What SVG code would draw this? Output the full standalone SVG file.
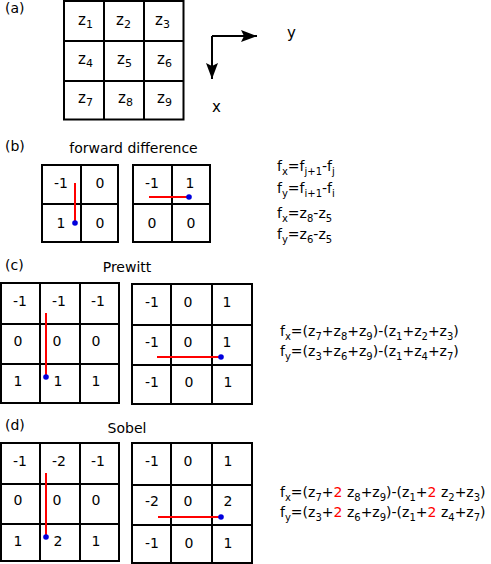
<svg xmlns="http://www.w3.org/2000/svg" width="491" height="564" viewBox="0 0 491 564">
<style>
text { font-family: "DejaVu Sans", "Verdana", sans-serif; font-size: 14px; fill: #000; }
.c { text-anchor: middle; }
.s { font-size: 10px; }
.z { font-size: 15px; }
.zs { font-size: 11px; }
.r { fill: #ff0000; }
.grid { fill: #fff; stroke: #000; stroke-width: 2; }
.gl { stroke: #000; stroke-width: 2; fill: none; }
.red { stroke: #ff0000; stroke-width: 2; fill: none; }
.dot { fill: #0000dd; }
.ax { stroke: #000; stroke-width: 2; fill: none; }
</style>
<defs>
<marker id="arr" markerUnits="userSpaceOnUse" markerWidth="20" markerHeight="14" refX="0" refY="0" viewBox="-17 -7 18 14" orient="auto" overflow="visible">
<path d="M0,0 L-16,-6 L-13,0 L-16,6 Z" fill="#000"/>
</marker>
</defs>

<!-- (a) -->
<g id="panel-a">
<text x="5" y="13">(a)</text>
<g id="grid-a">
<rect class="grid" x="64" y="1" width="119.5" height="118.5"/>
<path class="gl" d="M104,1V119.5M144,1V119.5M64,41H183.5M64,81H183.5"/>
<text x="78" y="25" class="z">z<tspan class="zs" dy="3">1</tspan></text>
<text x="116" y="25" class="z">z<tspan class="zs" dy="3">2</tspan></text>
<text x="155" y="25" class="z">z<tspan class="zs" dy="3">3</tspan></text>
<text x="78" y="64" class="z">z<tspan class="zs" dy="3">4</tspan></text>
<text x="117" y="64" class="z">z<tspan class="zs" dy="3">5</tspan></text>
<text x="157" y="64" class="z">z<tspan class="zs" dy="3">6</tspan></text>
<text x="78" y="103" class="z">z<tspan class="zs" dy="3">7</tspan></text>
<text x="118" y="103" class="z">z<tspan class="zs" dy="3">8</tspan></text>
<text x="157" y="103" class="z">z<tspan class="zs" dy="3">9</tspan></text>
</g>
<g id="axes">
<path class="ax" d="M212,36H257" marker-end="url(#arr)"/>
<path class="ax" d="M212,36V79" marker-end="url(#arr)"/>
<text x="287" y="38" class="z">y</text>
<text x="212" y="112" class="z">x</text>
</g>
</g>

<!-- (b) -->
<g id="panel-b">
<text x="5" y="151">(b)</text>
<text x="133.5" y="153" class="c">forward difference</text>
<g id="grid-b1">
<rect class="grid" x="42" y="165" width="76" height="77"/>
<path class="gl" d="M81,165V242M42,204H118"/>
<text x="61" y="188" class="c">-1</text>
<text x="100" y="188" class="c">0</text>
<text x="61" y="228" class="c">1</text>
<text x="100" y="228" class="c">0</text>
</g>
<g id="grid-b2">
<rect class="grid" x="133" y="165" width="77" height="77"/>
<path class="gl" d="M172,165V242M133,204H210"/>
<text x="152" y="188" class="c">-1</text>
<text x="190" y="188" class="c">1</text>
<text x="152" y="228" class="c">0</text>
<text x="191" y="228" class="c">0</text>
</g>
<g id="eq-b">
<text x="277" y="171">f<tspan class="s" dy="4">x</tspan><tspan dy="-4">=f</tspan><tspan class="s" dy="4">j+1</tspan><tspan dy="-4">-f</tspan><tspan class="s" dy="4">j</tspan></text>
<text x="277" y="193">f<tspan class="s" dy="4">y</tspan><tspan dy="-4">=f</tspan><tspan class="s" dy="4">i+1</tspan><tspan dy="-4">-f</tspan><tspan class="s" dy="4">i</tspan></text>
<text x="277" y="218">f<tspan class="s" dy="4">x</tspan><tspan dy="-4">=z</tspan><tspan class="s" dy="4">8</tspan><tspan dy="-4">-z</tspan><tspan class="s" dy="4">5</tspan></text>
<text x="277" y="239">f<tspan class="s" dy="4">y</tspan><tspan dy="-4">=z</tspan><tspan class="s" dy="4">6</tspan><tspan dy="-4">-z</tspan><tspan class="s" dy="4">5</tspan></text>
</g>
</g>

<!-- (c) -->
<g id="panel-c">
<text x="5" y="270">(c)</text>
<text x="127" y="272" class="c">Prewitt</text>
<g id="grid-c1">
<rect class="grid" x="1" y="283" width="118" height="120"/>
<path class="gl" d="M40,283V403M80,283V403M1,324H119M1,364H119"/>
<text x="20" y="306" class="c">-1</text>
<text x="59" y="306" class="c">-1</text>
<text x="98" y="306" class="c">-1</text>
<text x="18" y="346" class="c">0</text>
<text x="57" y="346" class="c">0</text>
<text x="96" y="346" class="c">0</text>
<text x="18" y="386" class="c">1</text>
<text x="58" y="386" class="c">1</text>
<text x="96" y="386" class="c">1</text>
</g>
<g id="grid-c2">
<rect class="grid" x="132" y="284" width="120" height="120"/>
<path class="gl" d="M171,284V404M212,284V404M132,325H252M132,365H252"/>
<text x="152" y="307" class="c">-1</text>
<text x="188" y="307" class="c">0</text>
<text x="227" y="307" class="c">1</text>
<text x="152" y="347" class="c">-1</text>
<text x="188" y="347" class="c">0</text>
<text x="227" y="347" class="c">1</text>
<text x="152" y="387" class="c">-1</text>
<text x="189" y="387" class="c">0</text>
<text x="228" y="387" class="c">1</text>
</g>
<g id="eq-c">
<text x="280" y="336">f<tspan class="s" dy="4">x</tspan><tspan dy="-4">=(z</tspan><tspan class="s" dy="4">7</tspan><tspan dy="-4">+z</tspan><tspan class="s" dy="4">8</tspan><tspan dy="-4">+z</tspan><tspan class="s" dy="4">9</tspan><tspan dy="-4">)-(z</tspan><tspan class="s" dy="4">1</tspan><tspan dy="-4">+z</tspan><tspan class="s" dy="4">2</tspan><tspan dy="-4">+z</tspan><tspan class="s" dy="4">3</tspan><tspan dy="-4">)</tspan></text>
<text x="280" y="356">f<tspan class="s" dy="4">y</tspan><tspan dy="-4">=(z</tspan><tspan class="s" dy="4">3</tspan><tspan dy="-4">+z</tspan><tspan class="s" dy="4">6</tspan><tspan dy="-4">+z</tspan><tspan class="s" dy="4">9</tspan><tspan dy="-4">)-(z</tspan><tspan class="s" dy="4">1</tspan><tspan dy="-4">+z</tspan><tspan class="s" dy="4">4</tspan><tspan dy="-4">+z</tspan><tspan class="s" dy="4">7</tspan><tspan dy="-4">)</tspan></text>
</g>
</g>

<!-- (d) -->
<g id="panel-d">
<text x="5" y="430">(d)</text>
<text x="127" y="433" class="c">Sobel</text>
<g id="grid-d1">
<rect class="grid" x="1" y="443" width="118" height="118"/>
<path class="gl" d="M40,443V561M80,443V561M1,484H119M1,524H119"/>
<text x="20" y="466" class="c">-1</text>
<text x="59" y="466" class="c">-2</text>
<text x="98" y="466" class="c">-1</text>
<text x="18" y="505" class="c">0</text>
<text x="57" y="505" class="c">0</text>
<text x="96" y="505" class="c">0</text>
<text x="18" y="546" class="c">1</text>
<text x="58" y="546" class="c">2</text>
<text x="96" y="546" class="c">1</text>
</g>
<g id="grid-d2">
<rect class="grid" x="132" y="443" width="120" height="120"/>
<path class="gl" d="M171,443V563M212,443V563M132,485H252M132,525H252"/>
<text x="152" y="466" class="c">-1</text>
<text x="188" y="466" class="c">0</text>
<text x="228" y="466" class="c">1</text>
<text x="152" y="506" class="c">-2</text>
<text x="188" y="506" class="c">0</text>
<text x="228" y="506" class="c">2</text>
<text x="152" y="548" class="c">-1</text>
<text x="189" y="548" class="c">0</text>
<text x="228" y="548" class="c">1</text>
</g>
<g id="eq-d">
<text x="280" y="497">f<tspan class="s" dy="4">x</tspan><tspan dy="-4">=(z</tspan><tspan class="s" dy="4">7</tspan><tspan dy="-4">+</tspan><tspan class="r">2</tspan> z<tspan class="s" dy="4">8</tspan><tspan dy="-4">+z</tspan><tspan class="s" dy="4">9</tspan><tspan dy="-4">)-(z</tspan><tspan class="s" dy="4">1</tspan><tspan dy="-4">+</tspan><tspan class="r">2</tspan> z<tspan class="s" dy="4">2</tspan><tspan dy="-4">+z</tspan><tspan class="s" dy="4">3</tspan><tspan dy="-4">)</tspan></text>
<text x="280" y="517">f<tspan class="s" dy="4">y</tspan><tspan dy="-4">=(z</tspan><tspan class="s" dy="4">3</tspan><tspan dy="-4">+</tspan><tspan class="r">2</tspan> z<tspan class="s" dy="4">6</tspan><tspan dy="-4">+z</tspan><tspan class="s" dy="4">9</tspan><tspan dy="-4">)-(z</tspan><tspan class="s" dy="4">1</tspan><tspan dy="-4">+</tspan><tspan class="r">2</tspan> z<tspan class="s" dy="4">4</tspan><tspan dy="-4">+z</tspan><tspan class="s" dy="4">7</tspan><tspan dy="-4">)</tspan></text>
</g>
</g>

<g id="connectors">
<path class="red" d="M75,183V223"/><circle class="dot" cx="75" cy="223" r="2.8"/>
<path class="red" d="M149,197H189"/><circle class="dot" cx="189" cy="197" r="2.8"/>
<path class="red" d="M46,313V377"/><circle class="dot" cx="46" cy="377" r="2.8"/>
<path class="red" d="M157,357H221"/><circle class="dot" cx="221" cy="357" r="2.8"/>
<path class="red" d="M46,473V537"/><circle class="dot" cx="46" cy="537" r="2.8"/>
<path class="red" d="M158,517H221"/><circle class="dot" cx="221" cy="517" r="2.8"/>
</g>
</svg>
